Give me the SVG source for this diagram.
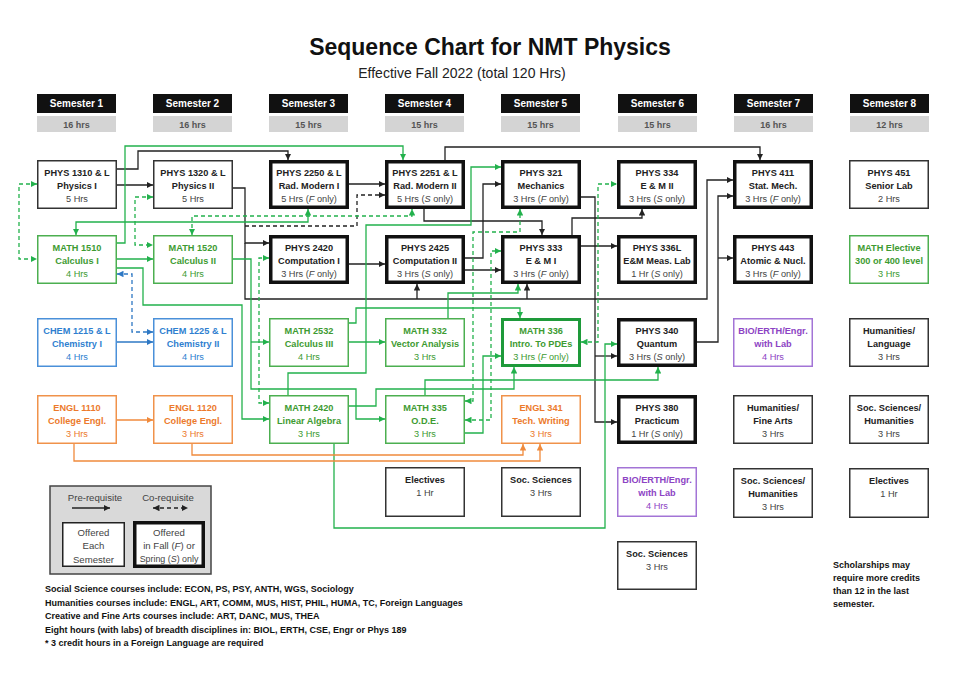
<svg xmlns="http://www.w3.org/2000/svg" width="955" height="683" viewBox="0 0 955 683">
<style>
text{font-family:"Liberation Sans",Arial,sans-serif}
.t{font-size:23px;font-weight:bold;fill:#111;text-anchor:middle}
.st{font-size:14px;fill:#222;text-anchor:middle}
.sh{fill:#111}
.shT{font-size:10px;font-weight:bold;fill:#fff;text-anchor:middle}
.hr{fill:#d4d4d4}
.hrT{font-size:9px;font-weight:bold;fill:#555;text-anchor:middle}
.box{fill:#fff;stroke:#333;stroke-width:1.5}
.thick{fill:#fff;stroke:#111;stroke-width:3.5}
.gbox{fill:#fff;stroke:#4caf50;stroke-width:1.5}
.gthick{fill:#fff;stroke:#1e9a3a;stroke-width:3}
.bbox{fill:#fff;stroke:#4a90d9;stroke-width:1.5}
.obox{fill:#fff;stroke:#f0924a;stroke-width:1.5}
.pbox{fill:#fff;stroke:#a374d6;stroke-width:1.5}
.a{font-size:9.2px;font-weight:bold;text-anchor:middle}
.b{font-size:9.2px;text-anchor:middle}
.k text{fill:#222}
.k .b{fill:#444}
.g text{fill:#3e9b32}
.bl text{fill:#2f7fd0}
.o text{fill:#ec7a2c}
.p text{fill:#8d44c4}
.c{fill:none;stroke-width:1.3}
.ck{stroke:#222}
.cg{stroke:#22b14c}
.cb{stroke:#2e78c4}
.co{stroke:#f08a3c}
.d{stroke-dasharray:4 3}
.note{font-size:9px;font-weight:bold;fill:#111}
.lg{font-size:9.6px;fill:#444;text-anchor:middle}
.lgs{font-size:8.9px}
</style>
<defs>
<marker id="ak" viewBox="0 0 10 10" refX="10" refY="5" markerWidth="6.5" markerHeight="6.5" markerUnits="userSpaceOnUse" orient="auto-start-reverse"><path d="M0,0L10,5L0,10z" fill="#222"/></marker>
<marker id="ag" viewBox="0 0 10 10" refX="10" refY="5" markerWidth="6.5" markerHeight="6.5" markerUnits="userSpaceOnUse" orient="auto-start-reverse"><path d="M0,0L10,5L0,10z" fill="#22b14c"/></marker>
<marker id="ab" viewBox="0 0 10 10" refX="10" refY="5" markerWidth="6.5" markerHeight="6.5" markerUnits="userSpaceOnUse" orient="auto-start-reverse"><path d="M0,0L10,5L0,10z" fill="#2e78c4"/></marker>
<marker id="ao" viewBox="0 0 10 10" refX="10" refY="5" markerWidth="6.5" markerHeight="6.5" markerUnits="userSpaceOnUse" orient="auto-start-reverse"><path d="M0,0L10,5L0,10z" fill="#f08a3c"/></marker>
</defs>
<rect width="955" height="683" fill="#fff"/>
<text class="t" x="490" y="55">Sequence Chart for NMT Physics</text>
<text class="st" x="462" y="78">Effective Fall 2022 (total 120 Hrs)</text>

<g id="semesters">
<rect class="sh" x="37" y="94" width="79" height="19"/><text class="shT" x="76.5" y="107">Semester 1</text>
<rect class="hr" x="37" y="116" width="79" height="16"/><text class="hrT" x="76.5" y="127.5">16 hrs</text>
<rect class="sh" x="153" y="94" width="79" height="19"/><text class="shT" x="192.5" y="107">Semester 2</text>
<rect class="hr" x="153" y="116" width="79" height="16"/><text class="hrT" x="192.5" y="127.5">16 hrs</text>
<rect class="sh" x="269" y="94" width="79" height="19"/><text class="shT" x="308.5" y="107">Semester 3</text>
<rect class="hr" x="269" y="116" width="79" height="16"/><text class="hrT" x="308.5" y="127.5">15 hrs</text>
<rect class="sh" x="385" y="94" width="79" height="19"/><text class="shT" x="424.5" y="107">Semester 4</text>
<rect class="hr" x="385" y="116" width="79" height="16"/><text class="hrT" x="424.5" y="127.5">15 hrs</text>
<rect class="sh" x="501" y="94" width="79" height="19"/><text class="shT" x="540.5" y="107">Semester 5</text>
<rect class="hr" x="501" y="116" width="79" height="16"/><text class="hrT" x="540.5" y="127.5">15 hrs</text>
<rect class="sh" x="618" y="94" width="79" height="19"/><text class="shT" x="657.5" y="107">Semester 6</text>
<rect class="hr" x="618" y="116" width="79" height="16"/><text class="hrT" x="657.5" y="127.5">15 hrs</text>
<rect class="sh" x="734" y="94" width="79" height="19"/><text class="shT" x="773.5" y="107">Semester 7</text>
<rect class="hr" x="734" y="116" width="79" height="16"/><text class="hrT" x="773.5" y="127.5">16 hrs</text>
<rect class="sh" x="850" y="94" width="79" height="19"/><text class="shT" x="889.5" y="107">Semester 8</text>
<rect class="hr" x="850" y="116" width="79" height="16"/><text class="hrT" x="889.5" y="127.5">12 hrs</text>
</g>

<g id="connectors">
<path class="c ck" d="M117,185H153" marker-end="url(#ak)"/>
<path class="c ck" d="M117,169H138V151H288V160" marker-end="url(#ak)"/>
<path class="c ck" d="M233,188H245V243H269" marker-end="url(#ak)"/>
<path class="c ck" d="M245,243V299H707V180H733" marker-end="url(#ak)"/>
<path class="c ck" d="M417,299V284" marker-end="url(#ak)"/>
<path class="c ck" d="M527,299V284" marker-end="url(#ak)"/>
<path class="c ck d" d="M245,226H357V195H385" marker-end="url(#ak)"/>
<path class="c ck" d="M349,184H385" marker-end="url(#ak)"/>
<path class="c ck" d="M349,264H385" marker-end="url(#ak)"/>
<path class="c ck" d="M424,209V221H542V235" marker-end="url(#ak)"/>
<path class="c ck" d="M445,160V147H760V160" marker-end="url(#ak)"/>
<path class="c ck" d="M465,258H483V184H501" marker-end="url(#ak)"/>
<path class="c ck" d="M465,270H501" marker-end="url(#ak)"/>
<path class="c ck" d="M581,197H595V422H617" marker-end="url(#ak)"/>
<path class="c ck" d="M595,356H617" marker-end="url(#ak)"/>
<path class="c ck" d="M572,235V218H642V209" marker-end="url(#ak)"/>
<path class="c ck" d="M581,246H617" marker-end="url(#ak)"/>
<path class="c ck" d="M697,342H718V196H733" marker-end="url(#ak)"/>
<path class="c ck" d="M718,258H733" marker-end="url(#ak)"/>
<path class="c cg" d="M117,259H153" marker-end="url(#ag)"/>
<path class="c cg" d="M117,243H125V146H403V160" marker-end="url(#ag)"/>
<path class="c cg" d="M76,235V222H308V209" marker-start="url(#ag)" marker-end="url(#ag)"/>
<path class="c cg" d="M117,268H143V305H242V419H269" marker-end="url(#ag)"/>
<path class="c cg" d="M233,259H251V389H356V419H385" marker-end="url(#ag)"/>
<path class="c cg" d="M251,342H269" marker-end="url(#ag)"/>
<path class="c cg" d="M349,342H385" marker-end="url(#ag)"/>
<path class="c cg" d="M349,323H356V308H520V318" marker-end="url(#ag)"/>
<path class="c cg" d="M288,395V373H366V225H471V167H501" marker-end="url(#ag)"/>
<path class="c cg" d="M448,318V293H518V284" marker-end="url(#ag)"/>
<path class="c cg" d="M349,406H376V389H514V367" marker-end="url(#ag)"/>
<path class="c cg" d="M425,395V380H658V367" marker-end="url(#ag)"/>
<path class="c cg" d="M465,433H483V356H501" marker-end="url(#ag)"/>
<path class="c cg" d="M334,444V528H605V344H617" marker-end="url(#ag)"/>
<path class="c cg d" d="M37,184H19V259H37" marker-start="url(#ag)" marker-end="url(#ag)"/>
<path class="c cg d" d="M153,197H135V245H153" marker-start="url(#ag)" marker-end="url(#ag)"/>
<path class="c cg d" d="M192,235V216H412V209" marker-start="url(#ag)" marker-end="url(#ag)"/>
<path class="c cg d" d="M269,258H259V403H269" marker-start="url(#ag)" marker-end="url(#ag)"/>
<path class="c cg d" d="M465,401H473V232H520V209" marker-start="url(#ag)" marker-end="url(#ag)"/>
<path class="c cg d" d="M465,420H491V251H501" marker-start="url(#ag)" marker-end="url(#ag)"/>
<path class="c cg d" d="M581,342H598V184H617" marker-start="url(#ag)" marker-end="url(#ag)"/>
<path class="c cb d" d="M117,274H132V332H153" marker-start="url(#ab)" marker-end="url(#ab)"/>
<path class="c cb" d="M117,342H153" marker-end="url(#ab)"/>
<path class="c co" d="M117,420H153" marker-end="url(#ao)"/>
<path class="c co" d="M74,444V461H540V444" marker-end="url(#ao)"/>
<path class="c co" d="M192,444V455H523V444" marker-end="url(#ao)"/>
</g>

<g id="phys1310" class="k"><rect class="box" x="37.75" y="160.75" width="78.5" height="47.5"/><text class="a" x="77" y="175.5">PHYS 1310 &amp; L</text><text class="a" x="77" y="188.5">Physics I</text><text class="b" x="77" y="201.5">5 Hrs</text></g>
<g id="math1510" class="g"><rect class="gbox" x="37.75" y="235.75" width="78.5" height="47.5"/><text class="a" x="77" y="250.5">MATH 1510</text><text class="a" x="77" y="263.5">Calculus I</text><text class="b" x="77" y="276.5">4 Hrs</text></g>
<g id="chem1215" class="bl"><rect class="bbox" x="37.75" y="318.75" width="78.5" height="47.5"/><text class="a" x="77" y="333.5">CHEM 1215 &amp; L</text><text class="a" x="77" y="346.5">Chemistry I</text><text class="b" x="77" y="359.5">4 Hrs</text></g>
<g id="engl1110" class="o"><rect class="obox" x="37.75" y="395.75" width="78.5" height="47.5"/><text class="a" x="77" y="410.5">ENGL 1110</text><text class="a" x="77" y="423.5">College Engl.</text><text class="b" x="77" y="436.5">3 Hrs</text></g>
<g id="phys1320" class="k"><rect class="box" x="153.75" y="160.75" width="78.5" height="47.5"/><text class="a" x="193" y="175.5">PHYS 1320 &amp; L</text><text class="a" x="193" y="188.5">Physics II</text><text class="b" x="193" y="201.5">5 Hrs</text></g>
<g id="math1520" class="g"><rect class="gbox" x="153.75" y="235.75" width="78.5" height="47.5"/><text class="a" x="193" y="250.5">MATH 1520</text><text class="a" x="193" y="263.5">Calculus II</text><text class="b" x="193" y="276.5">4 Hrs</text></g>
<g id="chem1225" class="bl"><rect class="bbox" x="153.75" y="318.75" width="78.5" height="47.5"/><text class="a" x="193" y="333.5">CHEM 1225 &amp; L</text><text class="a" x="193" y="346.5">Chemistry II</text><text class="b" x="193" y="359.5">4 Hrs</text></g>
<g id="engl1120" class="o"><rect class="obox" x="153.75" y="395.75" width="78.5" height="47.5"/><text class="a" x="193" y="410.5">ENGL 1120</text><text class="a" x="193" y="423.5">College Engl.</text><text class="b" x="193" y="436.5">3 Hrs</text></g>
<g id="phys2250" class="k"><rect class="thick" x="270.75" y="161.75" width="76.5" height="45.5"/><text class="a" x="309" y="175.5">PHYS 2250 &amp; L</text><text class="a" x="309" y="188.5">Rad. Modern I</text><text class="b" x="309" y="201.5">5 Hrs (<tspan font-style="italic">F</tspan> only)</text></g>
<g id="phys2420" class="k"><rect class="thick" x="270.75" y="236.75" width="76.5" height="45.5"/><text class="a" x="309" y="250.5">PHYS 2420</text><text class="a" x="309" y="263.5">Computation I</text><text class="b" x="309" y="276.5">3 Hrs (<tspan font-style="italic">F</tspan> only)</text></g>
<g id="math2532" class="g"><rect class="gbox" x="269.75" y="318.75" width="78.5" height="47.5"/><text class="a" x="309" y="333.5">MATH 2532</text><text class="a" x="309" y="346.5">Calculus III</text><text class="b" x="309" y="359.5">4 Hrs</text></g>
<g id="math2420" class="g"><rect class="gbox" x="269.75" y="395.75" width="78.5" height="47.5"/><text class="a" x="309" y="410.5">MATH 2420</text><text class="a" x="309" y="423.5">Linear Algebra</text><text class="b" x="309" y="436.5">3 Hrs</text></g>
<g id="phys2251" class="k"><rect class="thick" x="386.75" y="161.75" width="76.5" height="45.5"/><text class="a" x="425" y="175.5">PHYS 2251 &amp; L</text><text class="a" x="425" y="188.5">Rad. Modern II</text><text class="b" x="425" y="201.5">5 Hrs (<tspan font-style="italic">S</tspan> only)</text></g>
<g id="phys2425" class="k"><rect class="thick" x="386.75" y="236.75" width="76.5" height="45.5"/><text class="a" x="425" y="250.5">PHYS 2425</text><text class="a" x="425" y="263.5">Computation II</text><text class="b" x="425" y="276.5">3 Hrs (<tspan font-style="italic">S</tspan> only)</text></g>
<g id="math332" class="g"><rect class="gbox" x="385.75" y="318.75" width="78.5" height="47.5"/><text class="a" x="425" y="333.5">MATH 332</text><text class="a" x="425" y="346.5">Vector Analysis</text><text class="b" x="425" y="359.5">3 Hrs</text></g>
<g id="math335" class="g"><rect class="gbox" x="385.75" y="395.75" width="78.5" height="47.5"/><text class="a" x="425" y="410.5">MATH 335</text><text class="a" x="425" y="423.5">O.D.E.</text><text class="b" x="425" y="436.5">3 Hrs</text></g>
<g id="electives4" class="k"><rect class="box" x="385.75" y="467.75" width="78.5" height="48.5"/><text class="a" x="425" y="483">Electives</text><text class="b" x="425" y="496">1 Hr</text></g>
<g id="phys321" class="k"><rect class="thick" x="502.75" y="161.75" width="76.5" height="45.5"/><text class="a" x="541" y="175.5">PHYS 321</text><text class="a" x="541" y="188.5">Mechanics</text><text class="b" x="541" y="201.5">3 Hrs (<tspan font-style="italic">F</tspan> only)</text></g>
<g id="phys333" class="k"><rect class="thick" x="502.75" y="236.75" width="76.5" height="45.5"/><text class="a" x="541" y="250.5">PHYS 333</text><text class="a" x="541" y="263.5">E &amp; M I</text><text class="b" x="541" y="276.5">3 Hrs (<tspan font-style="italic">F</tspan> only)</text></g>
<g id="math336" class="g"><rect class="gthick" x="502.5" y="319.5" width="77" height="46"/><text class="a" x="541" y="333.5">MATH 336</text><text class="a" x="541" y="346.5">Intro. To PDEs</text><text class="b" x="541" y="359.5">3 Hrs (<tspan font-style="italic">F</tspan> only)</text></g>
<g id="engl341" class="o"><rect class="obox" x="501.75" y="395.75" width="78.5" height="47.5"/><text class="a" x="541" y="410.5">ENGL 341</text><text class="a" x="541" y="423.5">Tech. Writing</text><text class="b" x="541" y="436.5">3 Hrs</text></g>
<g id="socsci5" class="k"><rect class="box" x="501.75" y="467.75" width="78.5" height="48.5"/><text class="a" x="541" y="483">Soc. Sciences</text><text class="b" x="541" y="496">3 Hrs</text></g>
<g id="phys334" class="k"><rect class="thick" x="618.75" y="161.75" width="76.5" height="45.5"/><text class="a" x="657" y="175.5">PHYS 334</text><text class="a" x="657" y="188.5">E &amp; M II</text><text class="b" x="657" y="201.5">3 Hrs (<tspan font-style="italic">S</tspan> only)</text></g>
<g id="phys336l" class="k"><rect class="thick" x="618.75" y="236.75" width="76.5" height="45.5"/><text class="a" x="657" y="250.5">PHYS 336L</text><text class="a" x="657" y="263.5">E&amp;M Meas. Lab</text><text class="b" x="657" y="276.5">1 Hr (<tspan font-style="italic">S</tspan> only)</text></g>
<g id="phys340" class="k"><rect class="thick" x="618.75" y="319.75" width="76.5" height="45.5"/><text class="a" x="657" y="333.5">PHYS 340</text><text class="a" x="657" y="346.5">Quantum</text><text class="b" x="657" y="359.5">3 Hrs (<tspan font-style="italic">S</tspan> only)</text></g>
<g id="phys380" class="k"><rect class="thick" x="618.75" y="396.75" width="76.5" height="45.5"/><text class="a" x="657" y="410.5">PHYS 380</text><text class="a" x="657" y="423.5">Practicum</text><text class="b" x="657" y="436.5">1 Hr (<tspan font-style="italic">S</tspan> only)</text></g>
<g id="bio6" class="p"><rect class="pbox" x="617.75" y="467.75" width="78.5" height="48.5"/><text class="a" x="657" y="483">BIO/ERTH/Engr.</text><text class="a" x="657" y="496">with Lab</text><text class="b" x="657" y="509">4 Hrs</text></g>
<g id="socsci6" class="k"><rect class="box" x="617.75" y="541.75" width="78.5" height="47.5"/><text class="a" x="657" y="556.5">Soc. Sciences</text><text class="b" x="657" y="569.5">3 Hrs</text></g>
<g id="phys411" class="k"><rect class="thick" x="734.75" y="161.75" width="76.5" height="45.5"/><text class="a" x="773" y="175.5">PHYS 411</text><text class="a" x="773" y="188.5">Stat. Mech.</text><text class="b" x="773" y="201.5">3 Hrs (<tspan font-style="italic">F</tspan> only)</text></g>
<g id="phys443" class="k"><rect class="thick" x="734.75" y="236.75" width="76.5" height="45.5"/><text class="a" x="773" y="250.5">PHYS 443</text><text class="a" x="773" y="263.5">Atomic &amp; Nucl.</text><text class="b" x="773" y="276.5">3 Hrs (<tspan font-style="italic">F</tspan> only)</text></g>
<g id="bio7" class="p"><rect class="pbox" x="733.75" y="318.75" width="78.5" height="47.5"/><text class="a" x="773" y="333.5">BIO/ERTH/Engr.</text><text class="a" x="773" y="346.5">with Lab</text><text class="b" x="773" y="359.5">4 Hrs</text></g>
<g id="humfine7" class="k"><rect class="box" x="733.75" y="395.75" width="78.5" height="47.5"/><text class="a" x="773" y="410.5">Humanities/</text><text class="a" x="773" y="423.5">Fine Arts</text><text class="b" x="773" y="436.5">3 Hrs</text></g>
<g id="sochum7" class="k"><rect class="box" x="733.75" y="468.75" width="78.5" height="48.5"/><text class="a" x="773" y="484">Soc. Sciences/</text><text class="a" x="773" y="497">Humanities</text><text class="b" x="773" y="510">3 Hrs</text></g>
<g id="phys451" class="k"><rect class="box" x="849.75" y="160.75" width="78.5" height="47.5"/><text class="a" x="889" y="175.5">PHYS 451</text><text class="a" x="889" y="188.5">Senior Lab</text><text class="b" x="889" y="201.5">2 Hrs</text></g>
<g id="mathelective" class="g"><rect class="gbox" x="849.75" y="235.75" width="78.5" height="47.5"/><text class="a" x="889" y="250.5">MATH Elective</text><text class="a" x="889" y="263.5">300 or 400 level</text><text class="b" x="889" y="276.5">3 Hrs</text></g>
<g id="humlang8" class="k"><rect class="box" x="849.75" y="318.75" width="78.5" height="47.5"/><text class="a" x="889" y="333.5">Humanities/</text><text class="a" x="889" y="346.5">Language</text><text class="b" x="889" y="359.5">3 Hrs</text></g>
<g id="sochum8" class="k"><rect class="box" x="849.75" y="395.75" width="78.5" height="47.5"/><text class="a" x="889" y="410.5">Soc. Sciences/</text><text class="a" x="889" y="423.5">Humanities</text><text class="b" x="889" y="436.5">3 Hrs</text></g>
<g id="electives8" class="k"><rect class="box" x="849.75" y="468.75" width="78.5" height="48.5"/><text class="a" x="889" y="484">Electives</text><text class="b" x="889" y="497">1 Hr</text></g>

<g id="legend">
<rect x="50" y="486" width="161" height="88" fill="#d9d9d9" stroke="#444" stroke-width="1.5"/>
<text class="lg" x="95" y="501">Pre-requisite</text>
<text class="lg" x="168" y="501">Co-requisite</text>
<path class="c ck" d="M72,508H110" marker-end="url(#ak)"/>
<path class="c ck d" d="M153,508H188" marker-start="url(#ak)" marker-end="url(#ak)"/>
<rect x="62.75" y="522.75" width="61.5" height="43.5" fill="#fff" stroke="#222" stroke-width="1.5"/>
<text class="lg" x="93.5" y="535.5">Offered</text>
<text class="lg" x="93.5" y="549">Each</text>
<text class="lg" x="93.5" y="562.5">Semester</text>
<rect x="134.75" y="522.75" width="68.5" height="43.5" fill="#fff" stroke="#111" stroke-width="3.5"/>
<text class="lg" x="169" y="535.5">Offered</text>
<text class="lg" x="169" y="549">in Fall (<tspan font-style="italic">F</tspan>) or</text>
<text class="lg lgs" x="169" y="562">Spring (<tspan font-style="italic">S</tspan>) only</text>
</g>

<g id="notes">
<text class="note" x="45" y="592">Social Science courses include: ECON, PS, PSY, ANTH, WGS, Sociology</text>
<text class="note" x="45" y="606">Humanities courses include: ENGL, ART, COMM, MUS, HIST, PHIL, HUMA, TC, Foreign Languages</text>
<text class="note" x="45" y="619">Creative and Fine Arts courses include: ART, DANC, MUS, THEA</text>
<text class="note" x="45" y="632.5">Eight hours (with labs) of breadth disciplines in: BIOL, ERTH, CSE, Engr or Phys 189</text>
<text class="note" x="45" y="646">* 3 credit hours in a Foreign Language are required</text>
<text class="note" x="833" y="568">Scholarships may</text>
<text class="note" x="833" y="581">require more credits</text>
<text class="note" x="833" y="593.5">than 12 in the last</text>
<text class="note" x="833" y="606.5">semester.</text>
</g>
</svg>
